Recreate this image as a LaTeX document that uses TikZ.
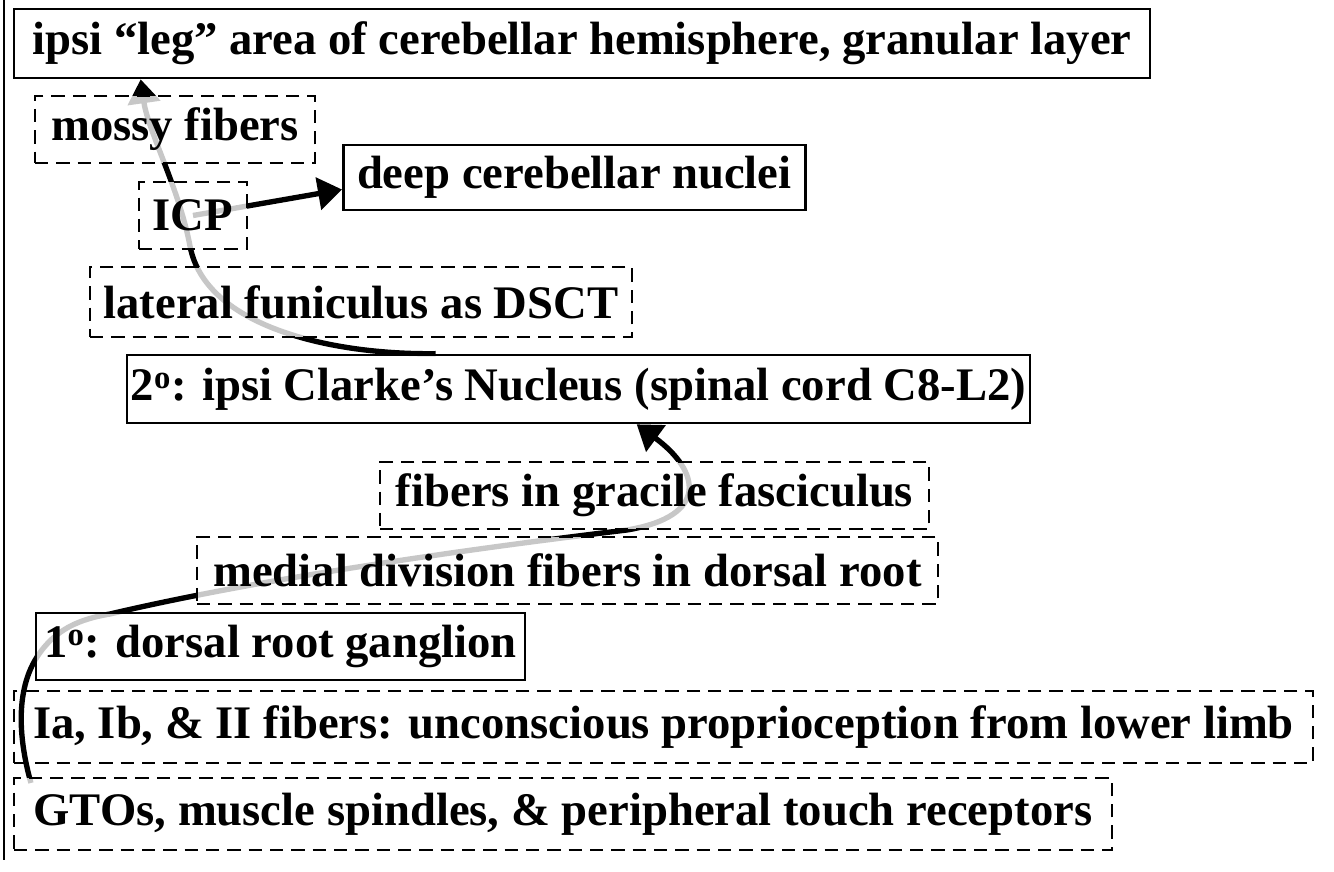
\documentclass[tikz,border=0pt]{standalone}
\usepackage{fontspec}
\setmainfont{Liberation Serif}
\usetikzlibrary{arrows.meta,positioning,calc,backgrounds}

\begin{document}
\begin{tikzpicture}[x=0.75pt, y=0.75pt,
        box/.style={rectangle, fill=white, fill opacity=0.78, text opacity=1, inner sep=2pt, font=\bfseries\fontsize{35}{40}\selectfont},
        block/.style={box, draw, line width=2pt},
        dashblock/.style={box, draw, line width=1.6pt, dash pattern=on 10pt off 6pt},
        boxsize/.style 2 args={minimum width=#1*0.75pt, minimum height=#2*0.75pt},
        fiber/.style={line width=4pt, -{Triangle[length=18pt,width=24pt]}}]

        \useasboundingbox (0,0) rectangle (1334,871);
        \draw[line width=1.5pt] (4,871) -- (4,11);

        \node[block, boxsize={1136}{69}] (leg) at (582,827.5) {ipsi “leg” area of cerebellar hemisphere, granular layer};
        \node[dashblock, boxsize={280}{67}] (mossy) at (175,741.5) {mossy fibers};
        \node[block, boxsize={462}{65}, anchor=west] (deep) at (342,693.5) {deep cerebellar nuclei};
        \node[dashblock, boxsize={108}{67}] (icp) at (193,655.5) {ICP};
        \node[dashblock, boxsize={542}{70}] (dsct) at (361,569) {lateral funiculus as DSCT};
        \node[block, boxsize={903}{68}] (clarke) at (578.5,482) {2\textsuperscript{o}: ipsi Clarke’s Nucleus (spinal cord C8-L2)};
        \node[dashblock, boxsize={549}{67}] (gracile) at (654.5,375.5) {fibers in gracile fasciculus};
        \node[dashblock, boxsize={741}{67}] (medial) at (567.5,300.5) {medial division fibers in dorsal root};
        \node[block, boxsize={489}{67}] (drg) at (280.5,224.5) {1\textsuperscript{o}: dorsal root ganglion};
        \node[dashblock, fill=none, boxsize={1299}{72}] (ia) at (663.5,144) {Ia, Ib, \& II fibers: unconscious proprioception from lower limb};
        \node[dashblock, boxsize={1098}{72}] (gto) at (563,57) {GTOs, muscle spindles, \& peripheral touch receptors};

        \begin{scope}[on background layer]
        % receptors up to Clarke's nucleus
        \draw[fiber] ($(gto.north west)+(18,-6)$) .. controls (22,120) and (12,175) .. (37,214)
            .. controls (55,242) and (80,252) .. (110,257)
            .. controls (250,290) and (450,320) .. (627,341)
            .. controls (710,355) and (700,400) .. ($(clarke.south west)+(511,0)$);
        % Clarke's nucleus up to the cerebellum
        \draw[fiber] ($(clarke.north west)+(310,0)$) .. controls (330,516) and (205,545) .. (190,625)
            .. controls (179,683) and (148,740) .. ($(leg.south west)+(128,0)$);
        \draw[fiber] (icp.center) -- ($(deep.west)+(0,-12)$);
        \end{scope}

    \end{tikzpicture}
\end{document}
